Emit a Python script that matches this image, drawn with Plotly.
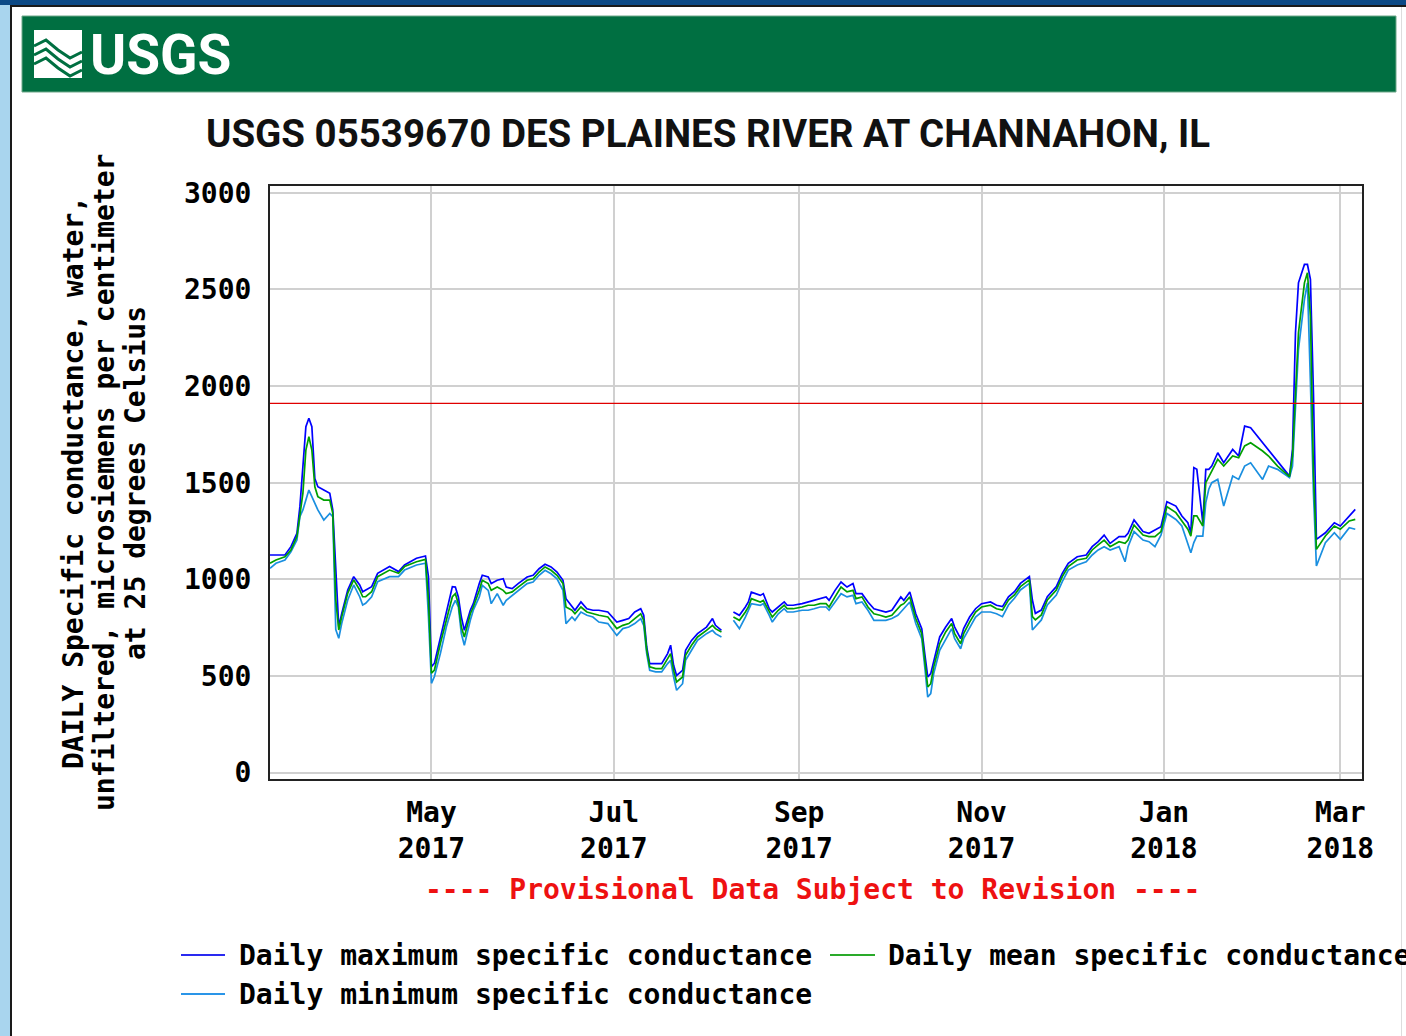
import plotly.graph_objects as go

# ---------------- data ----------------
dates = [
    "2017-03-08", "2017-03-10", "2017-03-13", "2017-03-15", "2017-03-17", "2017-03-18", "2017-03-19",
    "2017-03-20", "2017-03-21", "2017-03-22", "2017-03-23", "2017-03-24", "2017-03-26", "2017-03-28",
    "2017-03-29", "2017-03-30", "2017-03-31", "2017-04-01", "2017-04-03", "2017-04-05", "2017-04-07",
    "2017-04-08", "2017-04-09", "2017-04-11", "2017-04-13", "2017-04-17", "2017-04-20", "2017-04-22",
    "2017-04-26", "2017-04-29", "2017-04-30", "2017-05-01", "2017-05-02", "2017-05-04", "2017-05-06",
    "2017-05-08", "2017-05-09", "2017-05-10", "2017-05-11", "2017-05-12", "2017-05-14", "2017-05-15",
    "2017-05-17", "2017-05-18", "2017-05-20", "2017-05-21", "2017-05-23", "2017-05-25", "2017-05-26",
    "2017-05-28", "2017-05-30", "2017-06-02", "2017-06-04", "2017-06-06", "2017-06-08", "2017-06-10",
    "2017-06-12", "2017-06-14", "2017-06-15", "2017-06-17", "2017-06-18", "2017-06-20", "2017-06-22",
    "2017-06-24", "2017-06-26", "2017-06-29", "2017-07-02", "2017-07-04", "2017-07-06", "2017-07-08",
    "2017-07-10", "2017-07-11", "2017-07-12", "2017-07-13", "2017-07-15", "2017-07-17", "2017-07-19",
    "2017-07-20", "2017-07-21", "2017-07-22", "2017-07-24", "2017-07-25", "2017-07-27", "2017-07-29",
    "2017-08-01", "2017-08-03", "2017-08-04", "2017-08-06", "2017-08-08", "2017-08-10", "2017-08-12",
    "2017-08-14", "2017-08-15", "2017-08-16", "2017-08-19", "2017-08-20", "2017-08-22", "2017-08-23",
    "2017-08-25", "2017-08-27", "2017-08-28", "2017-08-30", "2017-09-02", "2017-09-04", "2017-09-06",
    "2017-09-08", "2017-09-10", "2017-09-11", "2017-09-13", "2017-09-15", "2017-09-17", "2017-09-19",
    "2017-09-20", "2017-09-22", "2017-09-24", "2017-09-26", "2017-09-28", "2017-09-30", "2017-10-02",
    "2017-10-04", "2017-10-05", "2017-10-06", "2017-10-08", "2017-10-10", "2017-10-12", "2017-10-13",
    "2017-10-14", "2017-10-15", "2017-10-16", "2017-10-18", "2017-10-20", "2017-10-22", "2017-10-23",
    "2017-10-25", "2017-10-26", "2017-10-28", "2017-10-30", "2017-11-01", "2017-11-04", "2017-11-06",
    "2017-11-08", "2017-11-10", "2017-11-12", "2017-11-14", "2017-11-17", "2017-11-18", "2017-11-19",
    "2017-11-21", "2017-11-23", "2017-11-26", "2017-11-28", "2017-11-30", "2017-12-03", "2017-12-06",
    "2017-12-08", "2017-12-10", "2017-12-12", "2017-12-14", "2017-12-17", "2017-12-19", "2017-12-20",
    "2017-12-22", "2017-12-25", "2017-12-27", "2017-12-29", "2017-12-31", "2018-01-02", "2018-01-05",
    "2018-01-07", "2018-01-09", "2018-01-10", "2018-01-11", "2018-01-12", "2018-01-14", "2018-01-15",
    "2018-01-16", "2018-01-17", "2018-01-19", "2018-01-21", "2018-01-24", "2018-01-26", "2018-01-28",
    "2018-01-30", "2018-02-03", "2018-02-05", "2018-02-08", "2018-02-12", "2018-02-13", "2018-02-14",
    "2018-02-15", "2018-02-17", "2018-02-18", "2018-02-19", "2018-02-20", "2018-02-21", "2018-02-24",
    "2018-02-27", "2018-03-01", "2018-03-04", "2018-03-06",
]

daily_max = [
    1126, 1126, 1126, 1169, 1238, 1376, 1583, 1790, 1833, 1790, 1522, 1479, 1462, 1445,
    1359, 1048, 755, 824, 945, 1014, 971, 936, 945, 962, 1031, 1066, 1040, 1074,
    1109, 1121, 1014, 548, 566, 703, 824, 962, 960, 909, 805, 736, 840, 874,
    978, 1021, 1012, 978, 995, 1003, 960, 952, 978, 1012, 1021, 1055, 1078, 1064,
    1038, 995, 900, 857, 840, 883, 848, 840, 840, 831, 779, 788, 797, 831,
    848, 814, 650, 564, 564, 564, 616, 659, 555, 503, 529, 633, 684, 719,
    753, 797, 762, 736, None, 831, 814, 857, 883, 934, 917, 926, 848, 831,
    857, 883, 866, 866, 874, 883, 891, 900, 909, 891, 943, 986, 960, 978,
    926, 926, 883, 848, 840, 831, 840, 883, 909, 891, 935, 822, 745, 616,
    495, 512, 581, 702, 753, 797, 753, 693, 745, 805, 848, 874, 883, 866,
    859, 910, 936, 979, 1014, 893, 824, 841, 910, 962, 1031, 1083, 1117, 1126,
    1169, 1195, 1229, 1186, 1221, 1221, 1238, 1307, 1247, 1238, 1255, 1272, 1402, 1379,
    1328, 1293, 1241, 1578, 1569, 1293, 1569, 1569, 1586, 1655, 1603, 1672, 1638, 1793,
    1784, 1707, 1664, 1612, 1534, 1672, 2276, 2534, 2629, 2629, 2552, 1966, 1207, 1241,
    1293, 1276, 1328, 1362,
]

daily_mean = [
    1083, 1100, 1117, 1152, 1221, 1333, 1445, 1669, 1738, 1669, 1479, 1428, 1410, 1410,
    1341, 893, 738, 807, 928, 997, 945, 910, 910, 936, 1014, 1048, 1031, 1066,
    1091, 1103, 893, 514, 531, 669, 790, 910, 926, 874, 753, 702, 822, 857,
    943, 995, 978, 943, 960, 943, 926, 935, 960, 995, 1003, 1038, 1064, 1047,
    1021, 978, 857, 840, 822, 857, 831, 822, 814, 805, 745, 762, 771, 797,
    822, 788, 633, 547, 538, 538, 590, 616, 529, 469, 495, 607, 659, 702,
    736, 762, 745, 728, None, 805, 788, 831, 857, 900, 883, 891, 831, 805,
    840, 866, 848, 848, 857, 866, 866, 874, 874, 857, 909, 960, 935, 943,
    900, 909, 857, 822, 814, 805, 814, 848, 866, 874, 909, 797, 719, 581,
    443, 460, 547, 667, 728, 771, 719, 667, 719, 779, 831, 857, 866, 848,
    841, 893, 919, 962, 997, 807, 790, 816, 893, 945, 1014, 1066, 1100, 1109,
    1152, 1178, 1203, 1169, 1195, 1186, 1203, 1281, 1229, 1221, 1221, 1247, 1376, 1345,
    1302, 1259, 1224, 1328, 1328, 1276, 1500, 1534, 1560, 1621, 1586, 1638, 1629, 1690,
    1707, 1664, 1638, 1586, 1531, 1638, 1983, 2276, 2534, 2586, 2362, 1560, 1155, 1224,
    1276, 1259, 1302, 1310,
]

daily_min = [
    1057, 1083, 1100, 1143, 1203, 1324, 1359, 1410, 1462, 1428, 1393, 1359, 1307, 1341,
    1324, 740, 695, 772, 893, 971, 910, 867, 876, 910, 988, 1014, 1014, 1048,
    1074, 1083, 807, 462, 497, 617, 755, 859, 891, 857, 719, 659, 788, 840,
    909, 969, 943, 874, 926, 866, 891, 917, 943, 978, 986, 1021, 1047, 1029,
    1003, 943, 771, 805, 788, 831, 814, 805, 779, 771, 710, 745, 753, 771,
    797, 762, 616, 529, 521, 521, 564, 581, 495, 426, 460, 581, 633, 684,
    719, 736, 719, 702, None, 788, 745, 805, 840, 874, 866, 874, 814, 779,
    822, 848, 831, 831, 840, 840, 848, 857, 857, 840, 883, 926, 909, 917,
    874, 883, 840, 788, 788, 788, 797, 814, 831, 848, 883, 771, 693, 547,
    391, 409, 512, 633, 693, 745, 693, 641, 693, 753, 805, 831, 831, 822,
    807, 867, 902, 945, 979, 738, 755, 790, 867, 919, 988, 1048, 1074, 1091,
    1126, 1152, 1169, 1152, 1169, 1091, 1169, 1247, 1203, 1195, 1169, 1229, 1341, 1310,
    1276, 1190, 1138, 1190, 1224, 1224, 1397, 1466, 1500, 1517, 1379, 1534, 1517, 1586,
    1603, 1517, 1586, 1569, 1526, 1586, 1897, 2190, 2448, 2534, 2017, 1450, 1069, 1190,
    1241, 1207, 1267, 1259,
]

reference_level = 1910

y_ticks = [0, 500, 1000, 1500, 2000, 2500, 3000]
x_tick_dates = ["2017-05-01", "2017-07-01", "2017-09-01", "2017-11-01", "2018-01-01", "2018-03-01"]
x_tick_text = ["May<br>2017", "Jul<br>2017", "Sep<br>2017", "Nov<br>2017", "Jan<br>2018", "Mar<br>2018"]

title_text = "USGS 05539670 DES PLAINES RIVER AT CHANNAHON, IL"
y_title_lines = ["DAILY Specific conductance, water,",
                 "unfiltered, microsiemens per centimeter",
                 "at 25 degrees Celsius"]
legend_names = ["Daily maximum specific conductance",
                "Daily mean specific conductance",
                "Daily minimum specific conductance"]

# ---------------- styling ----------------
W, H = 1406, 1036
L, R, T, B = 270, 1362, 186, 779
MONO = "DejaVu Sans Mono, Liberation Mono, monospace"
NARROW = "Liberation Sans Narrow, Arial Narrow, Roboto, Liberation Sans, sans-serif"
C_MAX, C_MEAN, C_MIN = "#0000ff", "#00a000", "#1a8fe0"


def px(x):
    return (x - L) / (R - L)


def py(y):
    return (B - y) / (B - T)


fig = go.Figure()
fig.add_trace(go.Scatter(x=dates, y=daily_min, mode="lines", name=legend_names[2],
                         line=dict(color=C_MIN, width=1.7), showlegend=False))
fig.add_trace(go.Scatter(x=dates, y=daily_max, mode="lines", name=legend_names[0],
                         line=dict(color=C_MAX, width=1.7), showlegend=False))
fig.add_trace(go.Scatter(x=dates, y=daily_mean, mode="lines", name=legend_names[1],
                         line=dict(color=C_MEAN, width=1.7), showlegend=False))

shapes = []
# page frame
shapes.append(dict(type="rect", xref="paper", yref="paper", x0=px(0), x1=px(W), y0=py(0), y1=py(5),
                   fillcolor="#0d4a86", line=dict(width=0), layer="below"))
shapes.append(dict(type="rect", xref="paper", yref="paper", x0=px(0), x1=px(10), y0=py(5), y1=py(H),
                   fillcolor="#a9d5ee", line=dict(width=0), layer="below"))
shapes.append(dict(type="rect", xref="paper", yref="paper", x0=px(10), x1=px(12), y0=py(5), y1=py(H),
                   fillcolor="#1a1a1a", line=dict(width=0), layer="below"))
shapes.append(dict(type="rect", xref="paper", yref="paper", x0=px(10), x1=px(W), y0=py(5), y1=py(7),
                   fillcolor="#1a1a1a", line=dict(width=0), layer="below"))
shapes.append(dict(type="rect", xref="paper", yref="paper", x0=px(1401), x1=px(1402), y0=py(7), y1=py(H),
                   fillcolor="#dddddd", line=dict(width=0), layer="below"))
# green banner
shapes.append(dict(type="rect", xref="paper", yref="paper", x0=px(22), x1=px(1396), y0=py(16), y1=py(92),
                   fillcolor="#006f41", line=dict(color="#6fa88a", width=1), layer="below"))
# logo block with waves
shapes.append(dict(type="rect", xref="paper", yref="paper", x0=px(34), x1=px(82), y0=py(30), y1=py(78),
                   fillcolor="white", line=dict(width=0)))
for off in (0, 9, 18):
    pts = [(34, 46 + off), (46, 40 + off), (58, 50 + off), (70, 58 + off), (82, 52 + off)]
    path = "M " + " L ".join(f"{px(a):.5f},{py(b):.5f}" for a, b in pts)
    shapes.append(dict(type="path", xref="paper", yref="paper", path=path,
                       line=dict(color="#006f41", width=3)))
# reference level line
shapes.append(dict(type="line", xref="paper", yref="y", x0=0, x1=1, y0=reference_level, y1=reference_level,
                   line=dict(color="#e00000", width=1.3)))
# legend samples
shapes.append(dict(type="line", xref="paper", yref="paper", x0=px(181), x1=px(225), y0=py(955), y1=py(955),
                   line=dict(color="#2a2af0", width=2)))
shapes.append(dict(type="line", xref="paper", yref="paper", x0=px(830), x1=px(875), y0=py(955), y1=py(955),
                   line=dict(color="#2aaa2a", width=2)))
shapes.append(dict(type="line", xref="paper", yref="paper", x0=px(181), x1=px(225), y0=py(994), y1=py(994),
                   line=dict(color="#2a95e8", width=2)))

annotations = []
annotations.append(dict(text="<b>USGS</b>", x=px(88), y=py(55), xref="paper", yref="paper",
                        xanchor="left", yanchor="middle", showarrow=False,
                        font=dict(family=NARROW, size=55, color="white")))
annotations.append(dict(text="<b>" + title_text + "</b>", x=px(708), y=py(133), xref="paper", yref="paper",
                        xanchor="center", yanchor="middle", showarrow=False,
                        font=dict(family=NARROW, size=38.5, color="#111111")))
for i, (line_txt, xc) in enumerate(zip(y_title_lines, (73, 104, 135))):
    annotations.append(dict(text=line_txt, x=px(xc), y=py(483), xref="paper", yref="paper",
                            xanchor="center", yanchor="middle", showarrow=False, textangle=-90,
                            font=dict(family=MONO, size=28, color="black", weight="bold")))
annotations.append(dict(text="---- Provisional Data Subject to Revision ----", x=px(812), y=py(889),
                        xref="paper", yref="paper", xanchor="center", yanchor="middle", showarrow=False,
                        font=dict(family=MONO, size=28, color="#ee1111", weight="bold")))
for txt, xl, yc in ((legend_names[0], 237, 955), (legend_names[1], 886, 955), (legend_names[2], 237, 994)):
    annotations.append(dict(text=txt, x=px(xl), y=py(yc), xref="paper", yref="paper",
                            xanchor="left", yanchor="middle", showarrow=False,
                            font=dict(family=MONO, size=28, color="black", weight="bold")))

fig.update_layout(
    width=W, height=H,
    margin=dict(l=L, r=W - R, t=T, b=H - B, pad=0),
    paper_bgcolor="white", plot_bgcolor="white",
    shapes=shapes, annotations=annotations,
    showlegend=False,
    xaxis=dict(range=["2017-03-08", "2018-03-08 06:00"], tickvals=x_tick_dates, ticktext=x_tick_text,
               showgrid=True, gridcolor="#d0d0d0", gridwidth=2, zeroline=False,
               showline=True, linecolor="#222222", linewidth=2, mirror=True,
               ticks="", ticklabelstandoff=7,
               tickfont=dict(family=MONO, size=28, color="black", weight="bold")),
    yaxis=dict(range=[-33, 3035], tickvals=y_ticks,
               showgrid=True, gridcolor="#d0d0d0", gridwidth=2, zeroline=False,
               showline=True, linecolor="#222222", linewidth=2, mirror=True,
               ticks="", ticklabelstandoff=11,
               tickfont=dict(family=MONO, size=28, color="black", weight="bold")),
)

fig.write_html("out.html", config={"displayModeBar": False},
               post_script="document.body.style.margin='0';document.body.style.overflow='hidden';")
